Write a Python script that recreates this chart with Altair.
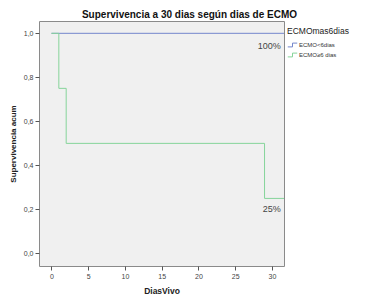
import altair as alt
import pandas as pd

groups = ["ECMO<6dias", "ECMO≥6 dias"]
blue_days = [0, 32]
blue_surv = [1.0, 1.0]
green_days = [0, 1, 2, 29, 32]
green_surv = [1.0, 0.75, 0.5, 0.25, 0.25]
colors = ["#7486CC", "#86D49A"]

ann_text = ["100%", "25%"]
ann_x = [31.2, 31.2]
ann_y = [0.943, 0.20]

rows = []
for d, s in zip(blue_days, blue_surv):
    rows.append({"DiasVivo": d, "surv": s, "grupo": groups[0]})
for d, s in zip(green_days, green_surv):
    rows.append({"DiasVivo": d, "surv": s, "grupo": groups[1]})
df = pd.DataFrame(rows)
ann = pd.DataFrame({"t": ann_text, "x": ann_x, "y": ann_y})

xs = alt.Scale(domain=[-1.7, 31.65], nice=False, zero=False)
ys = alt.Scale(domain=[-0.057, 1.056], nice=False, zero=False)

lines = alt.Chart(df).mark_line(interpolate="step-after", strokeWidth=1, clip=True).encode(
    x=alt.X("DiasVivo:Q", scale=xs,
            axis=alt.Axis(title="DiasVivo", values=[0, 5, 10, 15, 20, 25, 30], grid=False,
                          domain=False, tickSize=4, tickColor="#555", labelFontSize=7,
                          labelColor="#444", titleFontSize=8.5, titleFontWeight="bold",
                          titleColor="#222", titlePadding=7, labelPadding=2,
                          labelFont="Liberation Sans", titleFont="Liberation Sans")),
    y=alt.Y("surv:Q", scale=ys,
            axis=alt.Axis(title="Supervivencia acum", values=[0, 0.2, 0.4, 0.6, 0.8, 1.0],
                          format=".1f", labelExpr="replace(datum.label, '.', ',')",
                          grid=False, domain=False, tickSize=4, tickColor="#555",
                          labelFontSize=7, labelColor="#444", titleFontSize=8,
                          titleFontWeight="bold", titleColor="#222", titlePadding=6,
                          labelPadding=2, labelFont="Liberation Sans",
                          titleFont="Liberation Sans")),
    color=alt.Color("grupo:N", scale=alt.Scale(domain=groups, range=colors),
                    legend=alt.Legend(title="ECMOmas6dias", orient="none", legendX=248,
                                      legendY=6, titleFontSize=8.5, titleFontWeight="normal",
                                      titleColor="#222", labelFontSize=6, labelColor="#333",
                                      symbolType="M-1,0.4L0,0.4L0,-0.4L1,-0.4",
                                      symbolStrokeWidth=1, symbolSize=90, rowPadding=0,
                                      titlePadding=4, labelOffset=1,
                                      titleFont="Liberation Sans",
                                      labelFont="Liberation Sans")),
)

texts = alt.Chart(ann).mark_text(align="right", baseline="middle", fontSize=9,
                                 color="#444", font="Liberation Sans").encode(
    x=alt.X("x:Q", scale=xs), y=alt.Y("y:Q", scale=ys), text="t:N")

chart = alt.layer(lines, texts).properties(
    width=245, height=245,
    title=alt.TitleParams("Supervivencia a 30 dias según dias de ECMO", fontSize=10,
                          fontWeight="bold", color="#111", anchor="middle", dx=28,
                          offset=1, font="Liberation Sans"),
    padding={"left": 39, "top": 21, "right": 95, "bottom": 38},
    autosize=alt.AutoSizeParams(type="none"),
).configure(background="white").configure_view(fill="#F0F0F0", stroke="#8A8A8A",
                                               strokeWidth=1)

chart.save("out.html", embed_options={"renderer": "svg", "actions": False})
